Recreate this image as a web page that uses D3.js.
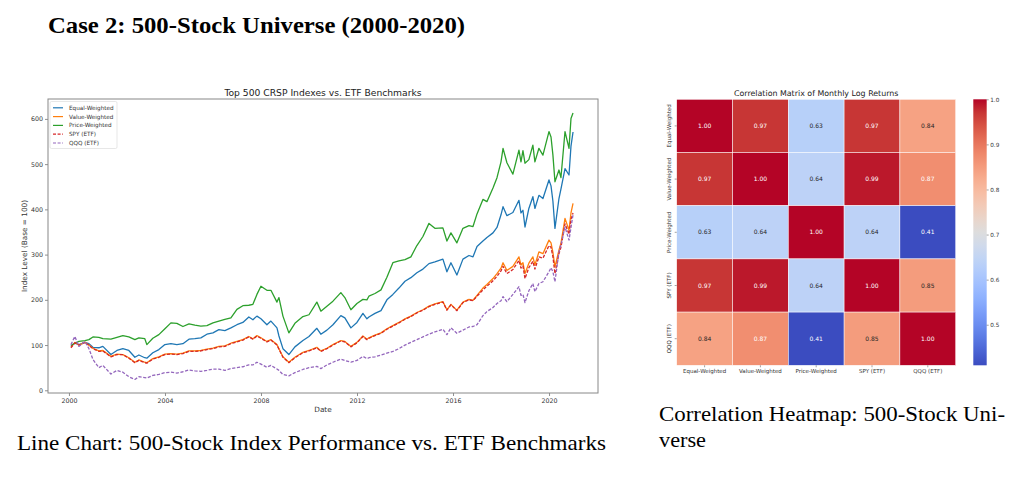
<!DOCTYPE html>
<html>
<head>
<meta charset="utf-8">
<script src="https://cdn.jsdelivr.net/npm/d3@7"></script>
<style>
  body { margin: 0; background: #fff; }
  svg { display: block; }
  .tick text { font-family: "DejaVu Sans", sans-serif; fill: #333; }
</style>
</head>
<body>
<svg width="1024" height="486"></svg>
<script>
// month-end dates shared by all five series
var months = [
  "2000-01","2000-03","2000-05","2000-08","2000-10","2000-12","2001-03","2001-05","2001-09","2001-12",
  "2002-03","2002-06","2002-09","2002-11","2003-02","2003-03","2003-06","2003-09","2003-12","2004-03",
  "2004-06","2004-09","2004-12","2005-03","2005-06","2005-09","2005-12","2006-03","2006-06","2006-09",
  "2006-12","2007-03","2007-06","2007-08","2007-10","2007-12","2008-03","2008-05","2008-08","2008-09",
  "2008-11","2009-02","2009-05","2009-09","2009-12","2010-04","2010-06","2010-09","2010-12","2011-04",
  "2011-06","2011-09","2011-12","2012-03","2012-05","2012-06","2012-09","2012-12","2013-03","2013-06",
  "2013-09","2013-12","2014-03","2014-06","2014-09","2014-12","2015-03","2015-07","2015-09","2015-11",
  "2016-02","2016-05","2016-08","2016-10","2016-12","2017-03","2017-05","2017-08","2017-10","2017-12",
  "2018-01","2018-03","2018-06","2018-09","2018-10","2018-11","2018-12","2019-02","2019-04","2019-05",
  "2019-07","2019-09","2019-12","2020-01","2020-02","2020-03","2020-05","2020-06","2020-08","2020-10",
  "2020-11","2020-12"
];

var equalWeighted = [
  99,104,101,106,103,95,94,97,79,88,
  92,88,73,78,72,71,83,90,101,103,
  101,103,113,114,116,124,127,134,132,138,
  145,150,162,156,164,158,145,153,138,120,
  92,79,96,110,119,137,124,133,145,165,
  160,138,150,170,158,162,170,176,200,212,
  226,241,249,260,268,280,284,290,262,282,
  255,290,298,295,318,330,338,348,360,388,
  406,386,393,420,392,398,361,402,428,402,
  431,424,465,452,418,358,424,445,490,476,
  540,571
];

var valueWeighted = [
  96,106,100,106,100,93,87,88,75,80,
  79,72,62,67,62,61,70,74,80,81,
  80,82,87,87,88,91,93,97,98,104,
  108,112,119,114,121,116,108,112,101,92,
  74,62,73,84,88,95,87,93,101,110,
  108,97,106,120,113,116,122,127,136,143,
  150,158,164,172,178,186,191,196,178,190,
  177,195,201,199,210,226,234,247,258,270,
  282,265,274,295,277,282,258,281,295,277,
  306,302,332,326,305,273,310,325,380,354,
  392,413
];

var priceWeighted = [
  99,104,108,110,112,118,117,114,113,117,
  121,118,112,116,114,101,115,123,136,149,
  148,141,147,144,142,143,149,153,157,160,
  179,187,188,190,212,230,221,221,195,205,
  164,127,148,163,167,195,175,186,197,216,
  205,178,192,201,200,208,214,222,250,282,
  286,289,295,320,340,369,358,359,330,348,
  326,358,364,362,390,422,417,447,470,505,
  535,503,478,531,505,530,502,510,542,505,
  535,520,572,560,520,461,487,470,572,535,
  601,613
];

var spyEtf = [
  94,105,100,106,99,92,86,87,74,79,
  79,71,61,66,61,60,69,73,79,80,
  79,81,86,86,87,90,92,96,97,103,
  107,111,118,113,120,115,107,111,100,91,
  73,61,72,83,87,94,86,92,100,109,
  107,96,105,119,112,115,121,126,135,142,
  149,157,163,171,177,185,190,195,177,189,
  176,194,200,198,208,222,230,242,252,264,
  274,258,267,287,270,275,247,271,285,268,
  295,292,320,316,295,258,302,316,368,345,
  378,392
];

var qqqEtf = [
  101,119,97,108,92,68,50,55,36,44,
  40,30,24,30,28,27,33,35,39,40,
  38,41,45,43,42,44,47,47,44,48,
  50,52,56,56,62,58,51,55,47,44,
  35,32,39,46,50,53,48,56,62,69,
  66,62,66,75,70,72,74,78,82,86,
  92,100,106,112,118,124,129,135,123,138,
  126,133,140,141,145,165,174,183,192,198,
  207,196,212,229,210,212,194,220,236,218,
  236,240,262,271,262,240,306,322,361,332,
  360,388
];

var seriesNames = ["Equal-Weighted", "Value-Weighted", "Price-Weighted", "SPY (ETF)", "QQQ (ETF)"];
var seriesColors = ["#1f77b4", "#ff7f0e", "#2ca02c", "#d62728", "#9467bd"];
var seriesDashed = [false, false, false, true, true];
var seriesValues = [equalWeighted, valueWeighted, priceWeighted, spyEtf, qqqEtf];

var yearTicks = [2000, 2004, 2008, 2012, 2016, 2020];
var levelTicks = [0, 100, 200, 300, 400, 500, 600];

// correlation matrix
var corrLabels = ["Equal-Weighted", "Value-Weighted", "Price-Weighted", "SPY (ETF)", "QQQ (ETF)"];
var corrValues = [
  [1.00, 0.97, 0.63, 0.97, 0.84],
  [0.97, 1.00, 0.64, 0.99, 0.87],
  [0.63, 0.64, 1.00, 0.64, 0.41],
  [0.97, 0.99, 0.64, 1.00, 0.85],
  [0.84, 0.87, 0.41, 0.85, 1.00]
];
var colorbarTicks = [0.5, 0.6, 0.7, 0.8, 0.9, 1.0];

var svg = d3.select("svg");
var sans = "DejaVu Sans, sans-serif";
var serif = "Liberation Serif, DejaVu Serif, serif";

// ---------- page texts ----------
svg.append("text")
  .attr("x", 48).attr("y", 32.5)
  .attr("textLength", 417).attr("lengthAdjust", "spacingAndGlyphs")
  .style("font-family", serif).style("font-weight", "bold").style("font-size", "24px")
  .text("Case 2: 500-Stock Universe (2000-2020)");

svg.append("text")
  .attr("x", 17).attr("y", 450)
  .attr("textLength", 589).attr("lengthAdjust", "spacingAndGlyphs")
  .style("font-family", serif).style("font-size", "21px")
  .text("Line Chart: 500-Stock Index Performance vs. ETF Benchmarks");

svg.append("text")
  .attr("x", 659).attr("y", 421)
  .attr("textLength", 346).attr("lengthAdjust", "spacingAndGlyphs")
  .style("font-family", serif).style("font-size", "21px")
  .text("Correlation Heatmap: 500-Stock Uni-");

svg.append("text")
  .attr("x", 659).attr("y", 447)
  .attr("textLength", 47).attr("lengthAdjust", "spacingAndGlyphs")
  .style("font-family", serif).style("font-size", "21px")
  .text("verse");

// ---------- line chart ----------
var plot = { left: 48, right: 598, top: 99, bottom: 393 };

function monthEnd(s) {
  var p = s.split("-");
  return new Date(+p[0], +p[1], 0);
}
var dates = months.map(monthEnd);

var x = d3.scaleTime()
  .domain([new Date(1999, 1, 16), new Date(2022, 0, 15)])
  .range([plot.left, plot.right]);
var y = d3.scaleLinear().domain([-6, 644]).range([plot.bottom, plot.top]);

var lc = svg.append("g");

var line = d3.line()
  .x(function(d, i) { return x(dates[i]); })
  .y(function(d) { return y(d); });

seriesValues.forEach(function(vals, k) {
  lc.append("path")
    .datum(vals)
    .attr("fill", "none")
    .attr("stroke", seriesColors[k])
    .attr("stroke-width", 1.3)
    .attr("stroke-linejoin", "round")
    .attr("stroke-dasharray", seriesDashed[k] ? "3.2,1.6" : null)
    .attr("d", line);
});

lc.append("g")
  .attr("transform", "translate(0," + plot.bottom + ")")
  .call(d3.axisBottom(x)
    .tickValues(yearTicks.map(function(yr) { return new Date(yr, 0, 1); }))
    .tickFormat(d3.timeFormat("%Y"))
    .tickSize(3).tickPadding(3))
  .call(function(g) {
    g.select(".domain").remove();
    g.selectAll(".tick line").attr("stroke", "#444").attr("stroke-width", 0.6);
    g.selectAll(".tick text").style("font-size", "6.3px");
  });

lc.append("g")
  .attr("transform", "translate(" + plot.left + ",0)")
  .call(d3.axisLeft(y).tickValues(levelTicks).tickSize(3).tickPadding(2))
  .call(function(g) {
    g.select(".domain").remove();
    g.selectAll(".tick line").attr("stroke", "#444").attr("stroke-width", 0.6);
    g.selectAll(".tick text").style("font-size", "6.3px");
  });

lc.append("rect")
  .attr("x", plot.left).attr("y", plot.top)
  .attr("width", plot.right - plot.left).attr("height", plot.bottom - plot.top)
  .attr("fill", "none").attr("stroke", "#888").attr("stroke-width", 1);

lc.append("text")
  .attr("x", (plot.left + plot.right) / 2).attr("y", 96)
  .attr("text-anchor", "middle")
  .style("font-family", sans).style("font-size", "9.2px").style("fill", "#222")
  .text("Top 500 CRSP Indexes vs. ETF Benchmarks");

lc.append("text")
  .attr("x", (plot.left + plot.right) / 2).attr("y", 412)
  .attr("text-anchor", "middle")
  .style("font-family", sans).style("font-size", "7.3px").style("fill", "#333")
  .text("Date");

lc.append("text")
  .attr("transform", "translate(27," + (plot.top + plot.bottom) / 2 + ")rotate(-90)")
  .attr("text-anchor", "middle")
  .style("font-family", sans).style("font-size", "7.3px").style("fill", "#333")
  .text("Index Level (Base = 100)");

// legend
var legend = { x: 50, y: 101.5, w: 67, h: 47, row: 8.8 };
lc.append("rect")
  .attr("x", legend.x).attr("y", legend.y)
  .attr("width", legend.w).attr("height", legend.h)
  .attr("rx", 1.5)
  .attr("fill", "#fff").attr("fill-opacity", 0.85)
  .attr("stroke", "#ddd").attr("stroke-width", 0.7);

seriesNames.forEach(function(name, k) {
  var ly = legend.y + 6.3 + k * legend.row;
  lc.append("line")
    .attr("x1", legend.x + 3).attr("x2", legend.x + 13)
    .attr("y1", ly).attr("y2", ly)
    .attr("stroke", seriesColors[k]).attr("stroke-width", 1.2)
    .attr("stroke-dasharray", seriesDashed[k] ? "3,1.6" : null);
  lc.append("text")
    .attr("x", legend.x + 19).attr("y", ly)
    .attr("dy", "0.35em")
    .style("font-family", sans).style("font-size", "5.7px").style("fill", "#333")
    .text(name);
});

// ---------- heatmap ----------
var hm = { left: 676.7, right: 955.7, top: 99.3, bottom: 365.3 };

var coolwarmStops = [
  [59,76,192],[68,90,204],[77,104,215],[87,117,225],[98,130,234],[108,142,241],
  [119,154,247],[130,165,251],[141,176,254],[152,185,255],[163,194,255],[174,201,253],
  [184,208,249],[194,213,244],[204,217,238],[213,219,230],[221,221,221],[229,216,209],
  [236,211,197],[241,204,185],[245,196,173],[247,187,160],[247,177,148],[247,166,135],
  [244,154,123],[241,141,111],[236,127,99],[229,112,88],[222,96,77],[213,80,66],
  [203,62,56],[192,40,47],[180,4,38]
];
var coolwarm = d3.scaleLinear()
  .domain(coolwarmStops.map(function(c, i) { return i / (coolwarmStops.length - 1); }))
  .range(coolwarmStops.map(function(c) { return d3.rgb(c[0], c[1], c[2]); }))
  .interpolate(d3.interpolateRgb);

var vmin = d3.min(corrValues, function(r) { return d3.min(r); });
var vmax = 1.0;
var norm = d3.scaleLinear().domain([vmin, vmax]).range([0, 1]).clamp(true);
function cellColor(v) { return coolwarm(norm(v)); }

function luminance(c) {
  c = d3.rgb(c);
  var lin = [c.r, c.g, c.b].map(function(v) {
    v /= 255;
    return v <= 0.03928 ? v / 12.92 : Math.pow((v + 0.055) / 1.055, 2.4);
  });
  return 0.2126 * lin[0] + 0.7152 * lin[1] + 0.0722 * lin[2];
}

var hx = d3.scaleBand().domain(corrLabels).range([hm.left, hm.right]);
var hy = d3.scaleBand().domain(corrLabels).range([hm.top, hm.bottom]);

var cells = [];
corrValues.forEach(function(row, i) {
  row.forEach(function(v, j) {
    cells.push({ r: corrLabels[i], c: corrLabels[j], v: v });
  });
});

var hg = svg.append("g");

hg.selectAll("rect.cell")
  .data(cells)
  .enter()
  .append("rect")
  .attr("class", "cell")
  .attr("x", function(d) { return hx(d.c); })
  .attr("y", function(d) { return hy(d.r); })
  .attr("width", hx.bandwidth())
  .attr("height", hy.bandwidth())
  .attr("fill", function(d) { return cellColor(d.v); })
  .attr("stroke", "#fff").attr("stroke-width", 0.5);

hg.selectAll("text.annot")
  .data(cells)
  .enter()
  .append("text")
  .attr("class", "annot")
  .attr("x", function(d) { return hx(d.c) + hx.bandwidth() / 2; })
  .attr("y", function(d) { return hy(d.r) + hy.bandwidth() / 2; })
  .attr("dy", "0.35em")
  .attr("text-anchor", "middle")
  .style("font-family", sans).style("font-size", "6px")
  .style("fill", function(d) { return luminance(cellColor(d.v)) > 0.408 ? "#262626" : "#fff"; })
  .text(function(d) { return d.v.toFixed(2); });

hg.append("g")
  .attr("transform", "translate(0," + hm.bottom + ")")
  .call(d3.axisBottom(hx).tickSize(2).tickPadding(2))
  .call(function(g) {
    g.select(".domain").remove();
    g.selectAll(".tick line").attr("stroke", "#444").attr("stroke-width", 0.5);
    g.selectAll(".tick text").style("font-size", "5.5px");
  });

hg.append("g")
  .attr("transform", "translate(" + hm.left + ",0)")
  .call(d3.axisLeft(hy).tickSize(2).tickPadding(2))
  .call(function(g) {
    g.select(".domain").remove();
    g.selectAll(".tick line").attr("stroke", "#444").attr("stroke-width", 0.5);
    g.selectAll(".tick text")
      .style("font-size", "5.5px")
      .attr("text-anchor", "middle")
      .attr("x", 0).attr("dy", 0)
      .attr("transform", "translate(-6,0)rotate(-90)");
  });

hg.append("text")
  .attr("x", (hm.left + hm.right) / 2).attr("y", 95.5)
  .attr("text-anchor", "middle")
  .style("font-family", sans).style("font-size", "7.9px").style("fill", "#222")
  .text("Correlation Matrix of Monthly Log Returns");

// colorbar
var cb = { x: 973.3, w: 13.4 };
var grad = svg.append("defs").append("linearGradient")
  .attr("id", "cbgrad")
  .attr("x1", 0).attr("y1", 1).attr("x2", 0).attr("y2", 0);
d3.range(0, 1.0001, 0.05).forEach(function(t) {
  grad.append("stop").attr("offset", t).attr("stop-color", coolwarm(t));
});

hg.append("rect")
  .attr("x", cb.x).attr("y", hm.top)
  .attr("width", cb.w).attr("height", hm.bottom - hm.top)
  .attr("fill", "url(#cbgrad)");

var cbScale = d3.scaleLinear().domain([vmin, vmax]).range([hm.bottom, hm.top]);
hg.append("g")
  .attr("transform", "translate(" + (cb.x + cb.w) + ",0)")
  .call(d3.axisRight(cbScale).tickValues(colorbarTicks).tickFormat(d3.format(".1f")).tickSize(2).tickPadding(1.5))
  .call(function(g) {
    g.select(".domain").remove();
    g.selectAll(".tick line").attr("stroke", "#444").attr("stroke-width", 0.5);
    g.selectAll(".tick text").style("font-size", "5.7px");
  });
</script>
</body>
</html>
